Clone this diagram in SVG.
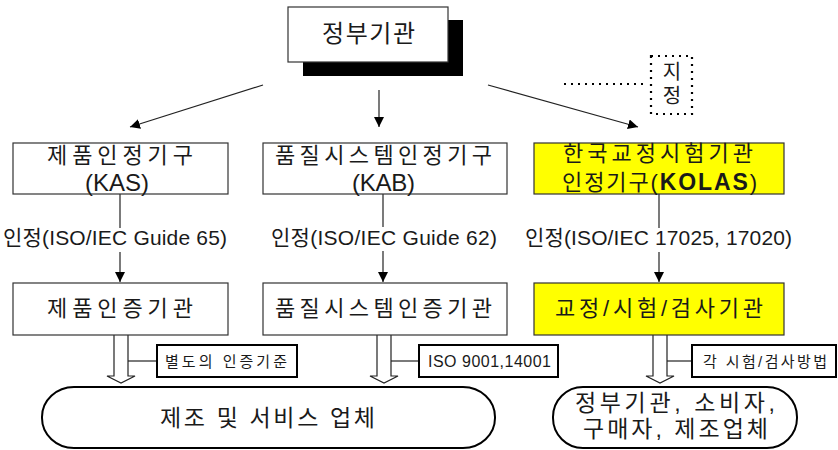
<svg xmlns="http://www.w3.org/2000/svg" width="838" height="450" viewBox="0 0 838 450">
<style>
  text { font-family: "Liberation Sans", "Noto Sans CJK KR", sans-serif; fill: #1a1a1a; }
  .box { fill: #fff; stroke: #333; stroke-width: 1.2; }
  .ybox { fill: #ffff00; stroke: #333; stroke-width: 1.2; }
  .lbl { fill: #fff; stroke: #000; stroke-width: 2; }
  .rnd { fill: #fff; stroke: #000; stroke-width: 2; }
  .ln { stroke: #222; stroke-width: 1.2; fill: none; }
  .dot { stroke: #000; stroke-width: 2.2; fill: none; stroke-dasharray: 2 5; }
  .hollow { fill: #fff; stroke: #222; stroke-width: 1.2; }
  .k { font-size: 22px; }
  .l { font-size: 21px; }
  .s { font-size: 15px; }
</style>
<defs>
  <marker id="ah" markerWidth="12" markerHeight="12" refX="10" refY="5" orient="auto" markerUnits="userSpaceOnUse">
    <path d="M0,0 L10,5 L0,10 Z" fill="#000"/>
  </marker>
</defs>

<g id="connectors">
  <line class="ln" x1="263" y1="85" x2="130" y2="127" marker-end="url(#ah)"/>
  <line class="ln" x1="379" y1="90" x2="379" y2="127" marker-end="url(#ah)"/>
  <line class="ln" x1="488" y1="85" x2="638" y2="127" marker-end="url(#ah)"/>
  <line class="dot" x1="564" y1="84" x2="648" y2="84"/>
  <line class="ln" x1="120" y1="194" x2="120" y2="228"/>
  <line class="ln" x1="120" y1="252" x2="120" y2="282" marker-end="url(#ah)"/>
  <line class="ln" x1="383" y1="194" x2="383" y2="227"/>
  <line class="ln" x1="383" y1="251" x2="383" y2="282" marker-end="url(#ah)"/>
  <line class="ln" x1="659" y1="194" x2="659" y2="228"/>
  <line class="ln" x1="659" y1="252" x2="659" y2="282" marker-end="url(#ah)"/>
  <path class="hollow" d="M114,335 L114,376 L107,376 L121,383 L135,376 L128,376 L128,335"/>
  <path class="hollow" d="M377,335 L377,376 L370,376 L384,383 L398,376 L391,376 L391,335"/>
  <path class="hollow" d="M653,335 L653,376 L646,376 L660,383 L674,376 L667,376 L667,335"/>
  <line class="ln" x1="128" y1="361" x2="157" y2="361" stroke-width="2"/>
  <line class="ln" x1="391" y1="361" x2="419" y2="361" stroke-width="2"/>
  <line class="ln" x1="667" y1="361" x2="692" y2="361" stroke-width="2"/>
</g>

<g id="gov">
  <rect x="303" y="20" width="160" height="56" fill="#000"/>
  <rect class="box" x="288" y="7" width="160" height="55"/>
  <text x="322" y="42" font-size="24" textLength="93" lengthAdjust="spacing">정부기관</text>
</g>

<g id="designate">
  <rect class="dot" x="651" y="56" width="41" height="58"/>
  <text x="672" y="79" font-size="20" text-anchor="middle">지</text>
  <text x="672" y="103" font-size="20" text-anchor="middle">정</text>
</g>

<g id="kas">
  <rect class="box" x="13" y="143" width="215" height="51"/>
  <text class="k" x="47" y="163" textLength="146" lengthAdjust="spacing">제품인정기구</text>
  <text x="85" y="191" font-size="24" textLength="64" lengthAdjust="spacing">(KAS)</text>
</g>

<g id="kab">
  <rect class="box" x="263" y="143" width="244" height="51"/>
  <text class="k" x="275" y="163" textLength="217" lengthAdjust="spacing">품질시스템인정기구</text>
  <text x="352" y="191" font-size="24" textLength="63" lengthAdjust="spacing">(KAB)</text>
</g>

<g id="kolas">
  <rect class="ybox" x="534" y="143" width="250" height="51"/>
  <text class="k" x="563" y="161" textLength="190" lengthAdjust="spacing">한국교정시험기관</text>
  <text class="k" x="562" y="190" textLength="195" lengthAdjust="spacing">인정기구(<tspan font-weight="bold" font-size="23">KOLAS</tspan>)</text>
</g>

<g id="label-65">
  <text class="l" x="3" y="245" textLength="224" lengthAdjust="spacing">인정(ISO/IEC Guide 65)</text>
</g>
<g id="label-62">
  <text class="l" x="271" y="245" textLength="226" lengthAdjust="spacing">인정(ISO/IEC Guide 62)</text>
</g>
<g id="label-17025">
  <text class="l" x="525" y="245" textLength="267" lengthAdjust="spacing">인정(ISO/IEC 17025, 17020)</text>
</g>

<g id="product-cert">
  <rect class="box" x="13" y="283" width="215" height="52"/>
  <text class="k" x="47" y="316" textLength="146" lengthAdjust="spacing">제품인증기관</text>
</g>

<g id="qs-cert">
  <rect class="box" x="263" y="283" width="244" height="52"/>
  <text class="k" x="275" y="316" textLength="217" lengthAdjust="spacing">품질시스템인증기관</text>
</g>

<g id="test-lab">
  <rect class="ybox" x="534" y="283" width="250" height="52"/>
  <text class="k" x="555" y="316" textLength="208" lengthAdjust="spacing">교정/시험/검사기관</text>
</g>

<g id="std-1">
  <rect class="lbl" x="157" y="345" width="140" height="32"/>
  <text class="s" x="165" y="367" textLength="122" lengthAdjust="spacing">별도의 인증기준</text>
</g>
<g id="std-2">
  <rect class="lbl" x="419" y="345" width="139" height="32"/>
  <text x="428" y="367" font-size="16" textLength="123" lengthAdjust="spacing">ISO 9001,14001</text>
</g>
<g id="std-3">
  <rect class="lbl" x="692" y="345" width="144" height="32"/>
  <text class="s" x="703" y="367" textLength="124" lengthAdjust="spacing">각 시험/검사방법</text>
</g>

<g id="industry">
  <rect class="rnd" x="42" y="387" width="453" height="61" rx="32" ry="30"/>
  <text x="160" y="426" font-size="23" textLength="215" lengthAdjust="spacing">제조 및 서비스 업체</text>
</g>

<g id="users">
  <rect class="rnd" x="553" y="387" width="244" height="61" rx="30" ry="30"/>
  <text x="575" y="411" font-size="23" textLength="200" lengthAdjust="spacing">정부기관, 소비자,</text>
  <text x="583" y="437" font-size="23" textLength="185" lengthAdjust="spacing">구매자, 제조업체</text>
</g>
</svg>
